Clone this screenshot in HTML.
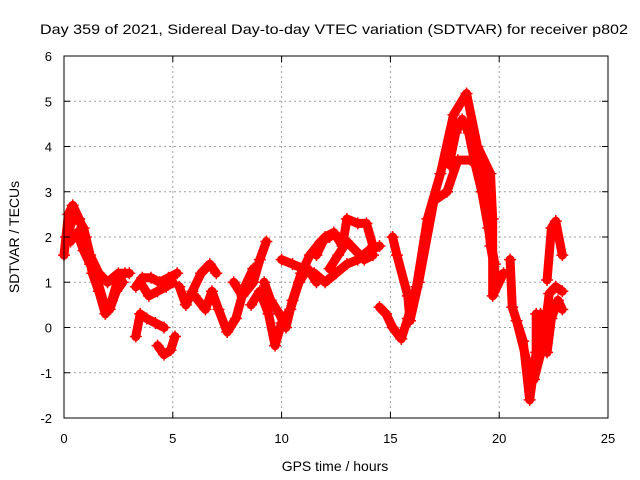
<!DOCTYPE html>
<html><head><meta charset="utf-8"><style>
body{margin:0;background:#fff}
svg{display:block;font-family:"Liberation Sans",sans-serif}
</style></head><body>
<svg id="chart" width="640" height="480" viewBox="0 0 640 480" xmlns="http://www.w3.org/2000/svg">
<text x="334" y="34" font-size="14" text-anchor="middle" textLength="588" lengthAdjust="spacingAndGlyphs">Day 359 of 2021, Sidereal Day-to-day VTEC variation (SDTVAR) for receiver p802</text>
<text x="335" y="471" font-size="14" text-anchor="middle">GPS time / hours</text>
<text x="19" y="237" font-size="14" text-anchor="middle" transform="rotate(-90 19 237)">SDTVAR / TECUs</text>
<g id="grid"></g>
<g id="marks"></g>
<rect x="64" y="56" width="544" height="362" fill="none" stroke="#000" stroke-width="1"/>
<g id="ticks"></g>
</svg>
<script>
const xTicks=[0,5,10,15,20,25];
const yTicks=[-2,-1,0,1,2,3,4,5,6];
const arcA=[[0,1.6],[0.2,2.5],[0.4,2.7],[0.7,2.4],[1.0,2.0],[1.3,1.2],[1.6,0.8],[1.9,0.3],[2.2,0.6],[2.5,1.1],[2.8,1.2]];
const arcB=[[0.1,2.0],[0.5,2.5],[0.9,2.2],[1.2,1.6],[1.6,1.2],[2.0,1.0],[2.5,1.2],[3.0,1.2]];
const arcB2=[[0.3,1.9],[0.6,2.1],[0.9,1.7],[1.2,1.4],[1.5,1.1],[1.8,0.6],[2.1,0.4],[2.4,0.8],[2.7,1.0]];
const arcC=[[3.3,0.9],[3.6,1.1],[4.0,1.1],[4.4,1.0],[4.8,1.1],[5.2,1.2]];
const arcC2=[[3.5,1.0],[3.9,0.7],[4.3,0.8],[4.7,0.9],[5.0,1.0]];
const arcD=[[3.3,-0.2],[3.5,0.3],[3.8,0.2],[4.2,0.1],[4.6,0.0]];
const arcE=[[4.3,-0.4],[4.6,-0.6],[4.9,-0.5],[5.1,-0.2]];
const arcF=[[5.3,0.9],[5.6,0.5],[5.9,0.8],[6.3,1.2],[6.7,1.4],[7.0,1.2]];
const arcG=[[6.0,0.7],[6.5,0.4],[6.8,0.8],[7.1,0.4],[7.5,-0.1],[7.9,0.2],[8.3,0.9],[8.7,1.3]];
const arcH=[[7.8,1.0],[8.2,0.7],[8.7,1.0],[9.0,1.5],[9.3,1.9]];
const arcI=[[8.6,0.5],[9.0,0.8],[9.4,0.3],[9.7,-0.4],[10.0,0.1],[10.4,0.4],[10.8,1.0],[11.2,1.3],[11.6,1.0]];
const arcJ=[[9.2,1.0],[9.5,0.6],[9.9,0.3],[10.2,0.0],[10.5,0.6],[10.9,1.2],[11.3,1.6],[11.8,1.9],[12.2,2.0]];
const arcK=[[10.0,1.5],[10.5,1.4],[11.0,1.3],[11.5,1.2],[12.0,1.0],[12.5,1.2],[13.0,1.4],[13.5,1.5],[14.0,1.7],[14.5,1.8]];
const arcL=[[11.6,1.6],[12.0,2.0],[12.4,2.1],[12.8,1.8],[13.0,2.4],[13.5,2.3],[13.9,2.3],[14.2,1.8]];
const arcL2=[[12.2,1.3],[12.6,1.6],[13.0,1.9],[13.4,1.7],[13.8,1.5],[14.2,1.6]];
const arcM=[[14.5,0.45],[14.8,0.3],[15.1,0.0],[15.5,-0.25],[15.8,0.2],[16.2,0.9],[16.7,2.4],[17.3,3.4],[17.9,4.7],[18.5,5.17],[19.0,4.0],[19.6,3.4],[19.7,2.4],[19.7,0.7],[20.2,1.2]];
const arcN=[[15.1,2.0],[15.3,1.6],[15.8,0.7],[15.9,0.15],[16.3,1.0],[17.0,2.8],[17.6,3.0],[18.1,3.7],[18.7,3.7],[19.3,3.5],[19.4,2.8],[19.6,1.8],[19.9,1.0]];
const arcN2=[[17.7,3.6],[18.0,4.3],[18.3,4.6],[18.6,4.3],[18.9,3.6],[19.2,3.0],[19.5,2.2],[19.8,1.4]];
const arcO=[[20.5,1.5],[20.6,0.45],[21.1,-0.3],[21.4,-1.6],[21.7,-0.55],[21.7,0.3]];
const arcP=[[20.8,0.15],[21.3,-0.8],[21.6,-1.15],[22.0,-0.4],[22.3,0.75],[22.6,0.9],[22.9,0.8]];
const arcQ=[[22.2,1.05],[22.4,2.2],[22.6,2.35],[22.9,1.6]];
const arcR=[[21.9,0.3],[22.2,-0.55],[22.4,0.2],[22.7,0.6],[22.9,0.4]];
const arcs=[arcA,arcB,arcB2,arcC,arcC2,arcD,arcE,arcF,arcG,arcH,arcI,arcJ,arcK,arcL,arcL2,arcM,arcN,arcN2,arcO,arcP,arcQ,arcR];
const X0=64,X1=608,Y0=418,Y1=56;
function xs(v){return X0+(v-0)/25*(X1-X0);}
function ys(v){return Y0-(v+2)/8*(Y0-Y1);}
const NS="http://www.w3.org/2000/svg";
const grid=document.getElementById('grid'),ticks=document.getElementById('ticks'),marks=document.getElementById('marks');
function mk(tag,attrs,parent){const e=document.createElementNS(NS,tag);for(const k in attrs)e.setAttribute(k,attrs[k]);parent.appendChild(e);return e;}
xTicks.forEach(t=>{const x=xs(t);
 if(t>0&&t<25){const g=mk('line',{x1:x,x2:x,y1:Y1,y2:Y0,stroke:'#a0a0a0','stroke-dasharray':'2,3'},grid);
 
 }
 const l=mk('text',{x:x,y:443,'font-size':13,'text-anchor':'middle'},ticks);l.textContent=t;
 
 
 mk('line',{x1:x,x2:x,y1:Y0,y2:Y0-6,stroke:'#000'},ticks);mk('line',{x1:x,x2:x,y1:Y1,y2:Y1+6,stroke:'#000'},ticks);});
yTicks.forEach(t=>{const y=ys(t);
 if(t>-2&&t<6){const g=mk('line',{x1:X0,x2:X1,y1:y,y2:y,stroke:'#a0a0a0','stroke-dasharray':'2,3'},grid);
 
 }
 const l=mk('text',{x:52,y:y+5,'font-size':13,'text-anchor':'end'},ticks);l.textContent=t;
 
 
 mk('line',{x1:X0,x2:X0+6,y1:y,y2:y,stroke:'#000'},ticks);mk('line',{x1:X1,x2:X1-6,y1:y,y2:y,stroke:'#000'},ticks);});
arcs.forEach((arc,i)=>{
 const p=mk('polyline',{points:arc.map(d=>xs(d[0])+','+ys(d[1])).join(' '),fill:'none',stroke:'#ff0000','stroke-width':9,'stroke-linejoin':'round','stroke-linecap':'round'},marks);
 
 
 arc.forEach(d=>{const x=xs(d[0]),y=ys(d[1]);
  const m=mk('path',{d:`M${x-6},${y}H${x+6}M${x},${y-6}V${y+6}`,stroke:'#ff0000','stroke-width':1.5},marks);
  
  });
});
</script>
</body></html>
